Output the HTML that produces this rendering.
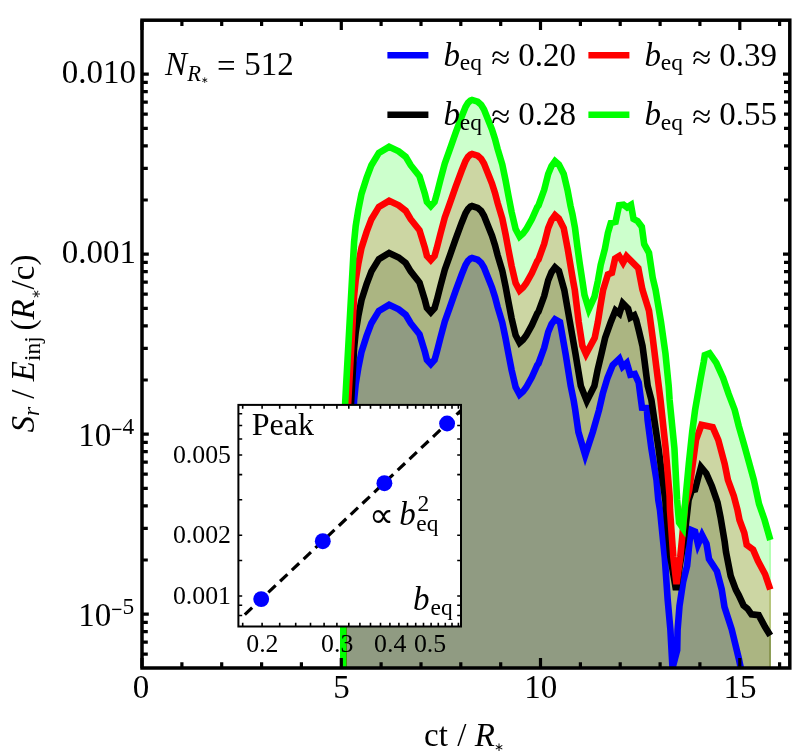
<!DOCTYPE html>
<html><head><meta charset="utf-8"><title>plot</title>
<style>
html,body{margin:0;padding:0;background:#fff;}
body{width:810px;height:751px;overflow:hidden;font-family:"Liberation Serif",serif;}
svg{display:block;will-change:transform;}
text{font-family:"Liberation Serif",serif;fill:#000;}
.i{font-style:italic;}
</style></head><body>
<svg width="810" height="751" viewBox="0 0 810 751">
<rect x="0" y="0" width="810" height="751" fill="#ffffff"/>
<defs><clipPath id="cp"><rect x="142.0" y="20.2" width="647.8" height="647.8"/></clipPath></defs>

<g clip-path="url(#cp)">
<polygon points="343.3,700.0 343.3,560.0 345.2,560.0 354.1,399.9 355.7,383.9 358.3,367.9 361.5,351.9 366.6,335.9 371.4,323.2 378.9,310.9 389.1,304.8 398.7,309.3 405.7,314.8 410.7,323.2 419.5,334.3 424.9,351.9 426.9,359.8 430.8,364.1 434.6,359.8 436.7,352.5 440.5,337.5 444.8,321.5 450.0,306.9 455.6,290.9 461.5,275.0 465.5,265.0 468.0,260.8 470.4,258.5 472.0,257.9 477.7,259.7 481.2,262.8 484.0,267.5 486.6,274.0 489.2,280.5 492.0,287.5 495.0,297.0 497.6,306.9 502.3,322.5 505.6,338.5 508.5,354.0 511.6,370.0 515.6,387.0 519.6,394.6 523.0,391.6 526.2,387.3 531.9,377.0 537.3,365.0 538.5,363.5 544.2,347.9 548.2,332.0 551.5,324.0 555.0,319.2 560.0,322.0 565.6,353.9 570.7,385.9 573.6,400.0 575.2,409.8 578.4,432.0 585.2,455.1 592.8,432.0 599.1,409.8 602.7,393.9 607.5,377.9 612.7,365.1 619.4,358.7 622.6,366.7 626.8,363.0 630.3,374.7 634.8,373.9 638.7,382.7 642.0,407.6 646.8,408.0 647.6,420.0 651.3,447.9 656.5,479.9 658.3,500.0 660.0,510.0 664.8,557.9 667.7,600.0 670.4,629.8 672.5,668.0 677.2,650.0 677.6,629.8 679.5,605.9 683.1,581.9 687.1,565.9 689.5,542.0 691.1,530.0 695.1,531.6 698.0,544.3 702.0,535.0 706.5,543.8 709.0,559.0 717.0,571.3 721.7,589.3 724.5,607.0 731.7,629.3 738.8,658.6 742.5,676.0 742.5,720.0 343.3,720.0" fill="#0000ff" fill-opacity="0.2" stroke="none"/>
<polygon points="343.3,700.0 343.3,560.0 345.2,508.2 354.1,348.1 355.7,332.1 358.3,316.1 361.5,300.1 366.6,284.1 371.4,271.4 378.9,259.1 389.1,253.0 398.7,257.5 405.7,263.0 410.7,271.4 419.5,282.5 424.9,300.1 426.9,308.0 430.8,312.3 434.6,308.0 436.7,300.7 440.5,285.7 444.8,269.7 450.0,255.1 455.6,239.1 461.5,223.2 465.5,213.2 468.0,209.0 470.4,206.7 472.0,206.1 477.7,207.9 481.2,211.0 484.0,215.7 486.6,222.2 489.2,228.7 492.0,235.7 495.0,245.2 497.6,255.1 502.3,270.7 505.6,286.7 508.5,302.2 511.6,318.2 515.6,335.2 519.6,342.8 523.0,339.8 526.2,335.5 531.9,325.2 537.3,313.2 538.5,311.7 544.2,296.1 548.2,280.2 551.5,272.2 555.0,267.4 558.9,270.8 564.3,290.0 569.9,322.0 575.5,353.9 580.8,385.9 586.8,401.0 594.4,385.9 597.6,369.9 601.4,353.9 605.1,337.9 610.8,322.0 615.5,310.3 619.4,313.5 622.7,303.2 628.1,308.8 630.5,317.5 634.3,315.3 636.2,320.0 638.7,329.9 642.5,345.9 644.4,360.0 647.7,385.9 651.4,400.0 658.5,447.9 665.3,500.0 670.3,556.6 676.0,590.0 683.3,543.3 685.9,524.0 688.6,500.0 691.9,490.3 695.1,489.5 701.0,467.0 706.3,473.5 711.9,486.3 717.5,502.3 720.5,517.0 724.7,542.0 726.0,552.0 730.7,576.0 735.9,589.9 738.7,595.1 743.5,605.5 747.5,608.7 751.5,614.3 758.7,615.1 765.1,627.1 770.3,635.5 770.3,720.0 343.3,720.0" fill="#000000" fill-opacity="0.2" stroke="none"/>
<polygon points="343.3,700.0 343.3,560.0 345.2,456.0 354.1,295.9 355.7,279.9 358.3,263.9 361.5,247.9 366.6,231.9 371.4,219.2 378.9,206.9 389.1,200.8 398.7,205.3 405.7,210.8 410.7,219.2 419.5,230.3 424.9,247.9 426.9,255.8 430.8,260.1 434.6,255.8 436.7,248.5 440.5,233.5 444.8,217.5 450.0,202.9 455.6,186.9 461.5,171.0 465.5,161.0 468.0,156.8 470.4,154.5 472.0,153.9 477.7,155.7 481.2,158.8 484.0,163.5 486.6,170.0 489.2,176.5 492.0,183.5 495.0,193.0 497.6,202.9 502.3,218.5 505.6,234.5 508.5,250.0 511.6,266.0 515.6,283.0 519.6,290.6 523.0,287.6 526.2,283.3 531.9,273.0 537.3,261.0 538.5,259.5 544.2,243.9 548.2,228.0 551.5,220.0 555.0,215.2 558.9,218.6 563.7,228.0 567.7,248.9 573.1,280.9 574.8,290.0 578.7,322.0 582.4,345.9 586.0,354.0 594.7,337.9 597.9,322.0 600.4,306.0 603.1,290.0 607.9,274.5 611.9,272.9 615.1,258.5 619.2,256.0 623.1,262.5 626.5,256.3 630.3,260.1 638.3,268.1 642.4,289.5 649.0,310.8 652.7,337.9 656.7,369.9 660.5,400.0 665.6,447.9 669.6,495.9 670.0,510.0 673.3,556.6 676.5,584.0 680.3,556.6 682.2,537.3 685.2,505.0 689.2,490.0 692.8,463.9 696.0,440.0 701.5,424.8 712.7,427.2 718.3,440.0 724.7,463.9 727.9,479.9 733.8,495.9 737.5,510.0 739.5,520.0 744.3,532.8 746.7,544.8 753.1,549.6 757.9,560.7 765.1,574.3 770.3,589.5 770.3,720.0 343.3,720.0" fill="#ff0000" fill-opacity="0.2" stroke="none"/>
<polygon points="343.3,700.0 343.3,560.0 345.2,402.0 354.1,241.9 355.7,225.9 358.3,209.9 361.5,193.9 366.6,177.9 371.4,165.2 378.9,152.9 389.1,146.8 398.7,151.3 405.7,156.8 410.7,165.2 419.5,176.3 424.9,193.9 426.9,201.8 430.8,206.1 434.6,201.8 436.7,194.5 440.5,179.5 444.8,163.5 450.0,148.9 455.6,132.9 461.5,117.0 465.5,107.0 468.0,102.8 470.4,100.5 472.0,99.9 477.7,101.7 481.2,104.8 484.0,109.5 486.6,116.0 489.2,122.5 492.0,129.5 495.0,139.0 497.6,148.9 502.3,164.5 505.6,180.5 508.5,196.0 511.6,212.0 515.6,229.0 519.6,236.6 523.0,233.6 526.2,229.3 531.9,219.0 537.3,207.0 538.5,205.5 544.2,189.9 548.2,174.0 551.5,166.0 555.0,161.2 558.9,164.6 563.7,174.0 567.5,189.9 570.5,205.9 572.4,214.0 575.0,228.0 577.3,246.0 579.5,262.0 582.4,280.9 584.5,295.0 588.8,309.2 594.4,296.9 597.9,280.9 600.7,264.9 604.9,248.9 607.9,232.9 610.8,223.0 615.6,221.8 619.1,205.2 623.5,204.7 627.1,207.4 631.0,204.9 633.5,218.9 637.5,221.0 641.8,226.9 644.2,244.1 649.0,252.9 652.7,277.7 655.6,290.0 661.0,322.0 665.5,353.9 668.7,385.9 669.6,400.0 674.4,447.9 677.1,500.0 679.1,522.5 682.9,528.0 685.4,500.0 688.8,463.9 692.2,432.0 695.1,409.9 700.7,377.9 703.7,362.0 704.8,355.2 709.6,353.2 716.3,362.8 723.1,377.9 728.6,393.9 734.7,409.9 738.7,425.9 743.3,441.9 745.0,447.9 753.8,479.9 759.0,503.9 764.6,520.0 770.3,540.0 770.3,720.0 343.3,720.0" fill="#00ff00" fill-opacity="0.2" stroke="none"/>
<line x1="770.2" y1="635.5" x2="770.2" y2="720" stroke="#000000" stroke-opacity="0.3" stroke-width="1.3"/>
<line x1="770.2" y1="589.5" x2="770.2" y2="720" stroke="#ff0000" stroke-opacity="0.3" stroke-width="1.3"/>
<line x1="770.2" y1="540.0" x2="770.2" y2="720" stroke="#00ff00" stroke-opacity="0.3" stroke-width="1.3"/>
<polyline points="343.3,700.0 343.3,560.0 345.2,560.0 354.1,399.9 355.7,383.9 358.3,367.9 361.5,351.9 366.6,335.9 371.4,323.2 378.9,310.9 389.1,304.8 398.7,309.3 405.7,314.8 410.7,323.2 419.5,334.3 424.9,351.9 426.9,359.8 430.8,364.1 434.6,359.8 436.7,352.5 440.5,337.5 444.8,321.5 450.0,306.9 455.6,290.9 461.5,275.0 465.5,265.0 468.0,260.8 470.4,258.5 472.0,257.9 477.7,259.7 481.2,262.8 484.0,267.5 486.6,274.0 489.2,280.5 492.0,287.5 495.0,297.0 497.6,306.9 502.3,322.5 505.6,338.5 508.5,354.0 511.6,370.0 515.6,387.0 519.6,394.6 523.0,391.6 526.2,387.3 531.9,377.0 537.3,365.0 538.5,363.5 544.2,347.9 548.2,332.0 551.5,324.0 555.0,319.2 560.0,322.0 565.6,353.9 570.7,385.9 573.6,400.0 575.2,409.8 578.4,432.0 585.2,455.1 592.8,432.0 599.1,409.8 602.7,393.9 607.5,377.9 612.7,365.1 619.4,358.7 622.6,366.7 626.8,363.0 630.3,374.7 634.8,373.9 638.7,382.7 642.0,407.6 646.8,408.0 647.6,420.0 651.3,447.9 656.5,479.9 658.3,500.0 660.0,510.0 664.8,557.9 667.7,600.0 670.4,629.8 672.5,668.0 677.2,650.0 677.6,629.8 679.5,605.9 683.1,581.9 687.1,565.9 689.5,542.0 691.1,530.0 695.1,531.6 698.0,544.3 702.0,535.0 706.5,543.8 709.0,559.0 717.0,571.3 721.7,589.3 724.5,607.0 731.7,629.3 738.8,658.6 742.5,676.0" fill="none" stroke="#0000ff" stroke-width="6.60" stroke-linejoin="miter" stroke-miterlimit="4" stroke-linecap="butt"/>
<polyline points="343.3,700.0 343.3,560.0 345.2,508.2 354.1,348.1 355.7,332.1 358.3,316.1 361.5,300.1 366.6,284.1 371.4,271.4 378.9,259.1 389.1,253.0 398.7,257.5 405.7,263.0 410.7,271.4 419.5,282.5 424.9,300.1 426.9,308.0 430.8,312.3 434.6,308.0 436.7,300.7 440.5,285.7 444.8,269.7 450.0,255.1 455.6,239.1 461.5,223.2 465.5,213.2 468.0,209.0 470.4,206.7 472.0,206.1 477.7,207.9 481.2,211.0 484.0,215.7 486.6,222.2 489.2,228.7 492.0,235.7 495.0,245.2 497.6,255.1 502.3,270.7 505.6,286.7 508.5,302.2 511.6,318.2 515.6,335.2 519.6,342.8 523.0,339.8 526.2,335.5 531.9,325.2 537.3,313.2 538.5,311.7 544.2,296.1 548.2,280.2 551.5,272.2 555.0,267.4 558.9,270.8 564.3,290.0 569.9,322.0 575.5,353.9 580.8,385.9 586.8,401.0 594.4,385.9 597.6,369.9 601.4,353.9 605.1,337.9 610.8,322.0 615.5,310.3 619.4,313.5 622.7,303.2 628.1,308.8 630.5,317.5 634.3,315.3 636.2,320.0 638.7,329.9 642.5,345.9 644.4,360.0 647.7,385.9 651.4,400.0 658.5,447.9 665.3,500.0 670.3,556.6 676.0,590.0 683.3,543.3 685.9,524.0 688.6,500.0 691.9,490.3 695.1,489.5 701.0,467.0 706.3,473.5 711.9,486.3 717.5,502.3 720.5,517.0 724.7,542.0 726.0,552.0 730.7,576.0 735.9,589.9 738.7,595.1 743.5,605.5 747.5,608.7 751.5,614.3 758.7,615.1 765.1,627.1 770.3,635.5" fill="none" stroke="#000000" stroke-width="6.60" stroke-linejoin="miter" stroke-miterlimit="4" stroke-linecap="butt"/>
<polyline points="343.3,700.0 343.3,560.0 345.2,456.0 354.1,295.9 355.7,279.9 358.3,263.9 361.5,247.9 366.6,231.9 371.4,219.2 378.9,206.9 389.1,200.8 398.7,205.3 405.7,210.8 410.7,219.2 419.5,230.3 424.9,247.9 426.9,255.8 430.8,260.1 434.6,255.8 436.7,248.5 440.5,233.5 444.8,217.5 450.0,202.9 455.6,186.9 461.5,171.0 465.5,161.0 468.0,156.8 470.4,154.5 472.0,153.9 477.7,155.7 481.2,158.8 484.0,163.5 486.6,170.0 489.2,176.5 492.0,183.5 495.0,193.0 497.6,202.9 502.3,218.5 505.6,234.5 508.5,250.0 511.6,266.0 515.6,283.0 519.6,290.6 523.0,287.6 526.2,283.3 531.9,273.0 537.3,261.0 538.5,259.5 544.2,243.9 548.2,228.0 551.5,220.0 555.0,215.2 558.9,218.6 563.7,228.0 567.7,248.9 573.1,280.9 574.8,290.0 578.7,322.0 582.4,345.9 586.0,354.0 594.7,337.9 597.9,322.0 600.4,306.0 603.1,290.0 607.9,274.5 611.9,272.9 615.1,258.5 619.2,256.0 623.1,262.5 626.5,256.3 630.3,260.1 638.3,268.1 642.4,289.5 649.0,310.8 652.7,337.9 656.7,369.9 660.5,400.0 665.6,447.9 669.6,495.9 670.0,510.0 673.3,556.6 676.5,584.0 680.3,556.6 682.2,537.3 685.2,505.0 689.2,490.0 692.8,463.9 696.0,440.0 701.5,424.8 712.7,427.2 718.3,440.0 724.7,463.9 727.9,479.9 733.8,495.9 737.5,510.0 739.5,520.0 744.3,532.8 746.7,544.8 753.1,549.6 757.9,560.7 765.1,574.3 770.3,589.5" fill="none" stroke="#ff0000" stroke-width="6.60" stroke-linejoin="miter" stroke-miterlimit="4" stroke-linecap="butt"/>
<polyline points="343.3,700.0 343.3,560.0 345.2,402.0 354.1,241.9 355.7,225.9 358.3,209.9 361.5,193.9 366.6,177.9 371.4,165.2 378.9,152.9 389.1,146.8 398.7,151.3 405.7,156.8 410.7,165.2 419.5,176.3 424.9,193.9 426.9,201.8 430.8,206.1 434.6,201.8 436.7,194.5 440.5,179.5 444.8,163.5 450.0,148.9 455.6,132.9 461.5,117.0 465.5,107.0 468.0,102.8 470.4,100.5 472.0,99.9 477.7,101.7 481.2,104.8 484.0,109.5 486.6,116.0 489.2,122.5 492.0,129.5 495.0,139.0 497.6,148.9 502.3,164.5 505.6,180.5 508.5,196.0 511.6,212.0 515.6,229.0 519.6,236.6 523.0,233.6 526.2,229.3 531.9,219.0 537.3,207.0 538.5,205.5 544.2,189.9 548.2,174.0 551.5,166.0 555.0,161.2 558.9,164.6 563.7,174.0 567.5,189.9 570.5,205.9 572.4,214.0 575.0,228.0 577.3,246.0 579.5,262.0 582.4,280.9 584.5,295.0 588.8,309.2 594.4,296.9 597.9,280.9 600.7,264.9 604.9,248.9 607.9,232.9 610.8,223.0 615.6,221.8 619.1,205.2 623.5,204.7 627.1,207.4 631.0,204.9 633.5,218.9 637.5,221.0 641.8,226.9 644.2,244.1 649.0,252.9 652.7,277.7 655.6,290.0 661.0,322.0 665.5,353.9 668.7,385.9 669.6,400.0 674.4,447.9 677.1,500.0 679.1,522.5 682.9,528.0 685.4,500.0 688.8,463.9 692.2,432.0 695.1,409.9 700.7,377.9 703.7,362.0 704.8,355.2 709.6,353.2 716.3,362.8 723.1,377.9 728.6,393.9 734.7,409.9 738.7,425.9 743.3,441.9 745.0,447.9 753.8,479.9 759.0,503.9 764.6,520.0 770.3,540.0" fill="none" stroke="#00ff00" stroke-width="6.60" stroke-linejoin="miter" stroke-miterlimit="4" stroke-linecap="butt"/>
</g>
<path d="M142.0 668.0 v-9.9 M142.0 20.2 v9.9 M181.9 668.0 v-5.8 M181.9 20.2 v5.8 M221.7 668.0 v-5.8 M221.7 20.2 v5.8 M261.6 668.0 v-5.8 M261.6 20.2 v5.8 M301.4 668.0 v-5.8 M301.4 20.2 v5.8 M341.3 668.0 v-9.9 M341.3 20.2 v9.9 M381.1 668.0 v-5.8 M381.1 20.2 v5.8 M421.0 668.0 v-5.8 M421.0 20.2 v5.8 M460.8 668.0 v-5.8 M460.8 20.2 v5.8 M500.7 668.0 v-5.8 M500.7 20.2 v5.8 M540.5 668.0 v-9.9 M540.5 20.2 v9.9 M580.4 668.0 v-5.8 M580.4 20.2 v5.8 M620.2 668.0 v-5.8 M620.2 20.2 v5.8 M660.1 668.0 v-5.8 M660.1 20.2 v5.8 M699.9 668.0 v-5.8 M699.9 20.2 v5.8 M739.8 668.0 v-9.9 M739.8 20.2 v9.9 M779.6 668.0 v-5.8 M779.6 20.2 v5.8 M142.0 654.1 h5.8 M789.8 654.1 h-5.8 M142.0 642.1 h5.8 M789.8 642.1 h-5.8 M142.0 631.6 h5.8 M789.8 631.6 h-5.8 M142.0 622.4 h5.8 M789.8 622.4 h-5.8 M142.0 614.2 h6.8 M789.8 614.2 h-6.8 M142.0 560.0 h5.8 M789.8 560.0 h-5.8 M142.0 528.3 h5.8 M789.8 528.3 h-5.8 M142.0 505.8 h5.8 M789.8 505.8 h-5.8 M142.0 488.4 h5.8 M789.8 488.4 h-5.8 M142.0 474.1 h5.8 M789.8 474.1 h-5.8 M142.0 462.1 h5.8 M789.8 462.1 h-5.8 M142.0 451.6 h5.8 M789.8 451.6 h-5.8 M142.0 442.4 h5.8 M789.8 442.4 h-5.8 M142.0 434.2 h6.8 M789.8 434.2 h-6.8 M142.0 380.0 h5.8 M789.8 380.0 h-5.8 M142.0 348.3 h5.8 M789.8 348.3 h-5.8 M142.0 325.8 h5.8 M789.8 325.8 h-5.8 M142.0 308.4 h5.8 M789.8 308.4 h-5.8 M142.0 294.1 h5.8 M789.8 294.1 h-5.8 M142.0 282.1 h5.8 M789.8 282.1 h-5.8 M142.0 271.6 h5.8 M789.8 271.6 h-5.8 M142.0 262.4 h5.8 M789.8 262.4 h-5.8 M142.0 254.2 h6.8 M789.8 254.2 h-6.8 M142.0 200.0 h5.8 M789.8 200.0 h-5.8 M142.0 168.3 h5.8 M789.8 168.3 h-5.8 M142.0 145.8 h5.8 M789.8 145.8 h-5.8 M142.0 128.4 h5.8 M789.8 128.4 h-5.8 M142.0 114.1 h5.8 M789.8 114.1 h-5.8 M142.0 102.1 h5.8 M789.8 102.1 h-5.8 M142.0 91.6 h5.8 M789.8 91.6 h-5.8 M142.0 82.4 h5.8 M789.8 82.4 h-5.8 M142.0 74.2 h6.8 M789.8 74.2 h-6.8" stroke="#000" stroke-width="3.2" fill="none"/>
<rect x="142.0" y="20.2" width="647.8" height="647.8" fill="none" stroke="#000" stroke-width="3.5"/>
<g font-size="33">
<text x="136" y="82.6" text-anchor="end">0.010</text>
<text x="136" y="262.6" text-anchor="end">0.001</text>
<text x="78.2" y="445.9">10</text>
<line x1="112.1" y1="429.4" x2="121.4" y2="429.4" stroke="#000" stroke-width="1.35"/>
<text x="122.6" y="434.0" font-size="23.4">4</text>
<text x="78.2" y="625.9">10</text>
<line x1="112.1" y1="609.4" x2="121.4" y2="609.4" stroke="#000" stroke-width="1.35"/>
<text x="122.6" y="614.0" font-size="23.4">5</text>
<text x="141.0" y="698.4" text-anchor="middle">0</text>
<text x="341.6" y="698.4" text-anchor="middle">5</text>
<text x="540.8" y="698.4" text-anchor="middle">10</text>
<text x="740.1" y="698.4" text-anchor="middle">15</text>
<text x="424" y="745.7">ct<tspan dx="1.2"> / </tspan><tspan class="i">R</tspan></text>
<text x="494.3" y="750.6" font-size="12" fill="#222">∗</text>
<text x="165" y="75.2" class="i">N</text>
<text x="187.2" y="80.6" class="i" font-size="22.5">R</text>
<text x="201" y="83.4" font-size="9" fill="#666">∗</text>
<text x="217.1" y="77.2">=</text>
<text x="244.2" y="75.2">512</text>
<line x1="387.4" y1="55.3" x2="428.4" y2="55.3" stroke="#0000ff" stroke-width="6.4"/>
<text x="443.6" y="65.6" class="i">b</text>
<text x="459.8" y="70.4" font-size="23.4">eq</text>
<text x="491.2" y="68.8" font-size="34.5">≈</text>
<text x="518.2" y="65.6">0.20</text>
<line x1="588.4" y1="55.3" x2="629.4" y2="55.3" stroke="#ff0000" stroke-width="6.4"/>
<text x="644.6" y="65.6" class="i">b</text>
<text x="660.8" y="70.4" font-size="23.4">eq</text>
<text x="692.2" y="68.8" font-size="34.5">≈</text>
<text x="719.2" y="65.6">0.39</text>
<line x1="387.4" y1="114.7" x2="428.4" y2="114.7" stroke="#000000" stroke-width="6.4"/>
<text x="443.6" y="125.0" class="i">b</text>
<text x="459.8" y="129.8" font-size="23.4">eq</text>
<text x="491.2" y="128.2" font-size="34.5">≈</text>
<text x="518.2" y="125.0">0.28</text>
<line x1="588.4" y1="114.7" x2="629.4" y2="114.7" stroke="#00ff00" stroke-width="6.4"/>
<text x="644.6" y="125.0" class="i">b</text>
<text x="660.8" y="129.8" font-size="23.4">eq</text>
<text x="692.2" y="128.2" font-size="34.5">≈</text>
<text x="719.2" y="125.0">0.55</text>
<g transform="translate(34,432.5) rotate(-90)">
<text x="0" y="0"><tspan class="i">S</tspan><tspan class="i" font-size="23.4" dy="5">r</tspan><tspan dy="-5"> / </tspan><tspan class="i">E</tspan><tspan font-size="23.4" dy="6">inj</tspan><tspan dy="-6" dx="-2.5"> (</tspan><tspan class="i">R</tspan><tspan font-size="12" dy="6" fill="#222">∗</tspan><tspan dy="-6">/c)</tspan></text>
</g>
</g>
<rect x="238.4" y="404.9" width="222.6" height="221.6" fill="#fff" stroke="none"/>
<line x1="244.8" y1="614.6" x2="461.0" y2="410.4" stroke="#000" stroke-width="3.2" stroke-dasharray="10.1 6.08"/>
<circle cx="261.2" cy="599.1" r="7.95" fill="#0000ff"/>
<circle cx="322.8" cy="541.2" r="7.95" fill="#0000ff"/>
<circle cx="384.4" cy="483.2" r="7.95" fill="#0000ff"/>
<circle cx="447.1" cy="423.5" r="7.95" fill="#0000ff"/>
<path d="M242.7 626.5 v-3.8 M242.7 404.9 v3.8 M262.1 626.5 v-3.8 M262.1 404.9 v3.8 M279.7 626.5 v-3.8 M279.7 404.9 v3.8 M295.7 626.5 v-3.8 M295.7 404.9 v3.8 M310.5 626.5 v-3.8 M310.5 404.9 v3.8 M324.1 626.5 v-3.8 M324.1 404.9 v3.8 M336.9 626.5 v-3.8 M336.9 404.9 v3.8 M348.8 626.5 v-3.8 M348.8 404.9 v3.8 M359.9 626.5 v-3.8 M359.9 404.9 v3.8 M370.5 626.5 v-3.8 M370.5 404.9 v3.8 M380.5 626.5 v-3.8 M380.5 404.9 v3.8 M389.9 626.5 v-3.8 M389.9 404.9 v3.8 M398.9 626.5 v-3.8 M398.9 404.9 v3.8 M407.5 626.5 v-3.8 M407.5 404.9 v3.8 M415.7 626.5 v-3.8 M415.7 404.9 v3.8 M423.5 626.5 v-3.8 M423.5 404.9 v3.8 M431.1 626.5 v-3.8 M431.1 404.9 v3.8 M438.3 626.5 v-3.8 M438.3 404.9 v3.8 M445.3 626.5 v-3.8 M445.3 404.9 v3.8 M452.0 626.5 v-3.8 M452.0 404.9 v3.8 M458.4 626.5 v-3.8 M458.4 404.9 v3.8 M238.4 615.5 h3.8 M461.0 615.5 h-3.8 M238.4 605.2 h3.8 M461.0 605.2 h-3.8 M238.4 596.0 h3.8 M461.0 596.0 h-3.8 M238.4 560.5 h3.8 M461.0 560.5 h-3.8 M238.4 535.3 h3.8 M461.0 535.3 h-3.8 M238.4 499.8 h3.8 M461.0 499.8 h-3.8 M238.4 474.6 h3.8 M461.0 474.6 h-3.8 M238.4 455.0 h3.8 M461.0 455.0 h-3.8 M238.4 439.0 h3.8 M461.0 439.0 h-3.8 M238.4 425.5 h3.8 M461.0 425.5 h-3.8 M238.4 413.8 h3.8 M461.0 413.8 h-3.8" stroke="#000" stroke-width="1.6" fill="none"/>
<rect x="238.4" y="404.9" width="222.6" height="221.6" fill="none" stroke="#000" stroke-width="2"/>
<g font-size="25.8">
<text x="231" y="463.0" text-anchor="end">0.005</text>
<text x="231" y="543.3" text-anchor="end">0.002</text>
<text x="231" y="604.0" text-anchor="end">0.001</text>
<text x="262.4" y="652.2" text-anchor="middle">0.2</text>
<text x="337.2" y="652.2" text-anchor="middle">0.3</text>
<text x="390.2" y="652.2" text-anchor="middle">0.4</text>
<text x="430.1" y="652.2" text-anchor="middle">0.5</text>
</g>
<g font-size="33">
<text x="251.7" y="434.7" font-size="32">Peak</text>
<text x="368.6" y="526.9" font-size="35">∝</text>
<text x="399.3" y="524.5" class="i">b</text>
<text x="417.6" y="510.7" font-size="23.4">2</text>
<text x="416.3" y="531.4" font-size="23.4">eq</text>
<text x="412.9" y="610.4" class="i">b</text>
<text x="430.6" y="615.2" font-size="23.4">eq</text>
</g>
</svg></body></html>
